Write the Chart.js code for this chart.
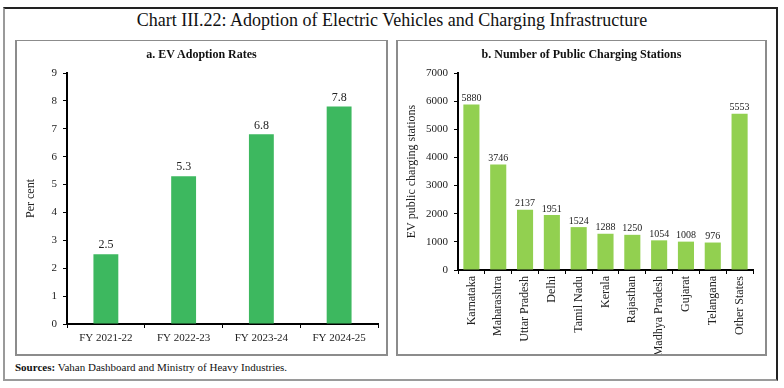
<!DOCTYPE html>
<html>
<head>
<meta charset="utf-8">
<script src="https://cdn.jsdelivr.net/npm/chart.js@4"></script>
<style>
  body { margin: 0; width: 784px; height: 388px; background: #fff; font-family: "Liberation Serif", serif; position: relative; overflow: hidden; }
  #outer { position: absolute; left: 3px; top: 7px; width: 775px; height: 374px; box-sizing: border-box;
           border-top: 2px solid #222; border-right: 2px solid #222; border-left: 2px solid #9a9a9a; border-bottom: 2px solid #9a9a9a; }
  #title { position: absolute; left: 0; top: 10px; width: 784px; text-align: center; font-size: 18px; color: #111; }
  .panel { position: absolute; top: 40px; height: 316px; box-sizing: border-box; border: 1px solid #8c8c8c; border-width: 1px 2px 2px 2px; }
  .panel canvas { position: absolute; left: 0; top: 0; }
  .ptitle { position: absolute; left: 0; top: 6px; width: 100%; text-align: center; font-weight: bold; font-size: 12px; color: #111; }
  #src { position: absolute; left: 15px; top: 361px; font-size: 11px; color: #111; }
</style>
</head>
<body>
<div id="outer"></div>
<div id="title">Chart III.22: Adoption of Electric Vehicles and Charging Infrastructure</div>
<div class="panel" style="left:15px; width:373px;">
  <canvas id="chartA" width="369" height="313"></canvas>
  <div class="ptitle">a. EV Adoption Rates</div>
</div>
<div class="panel" style="left:396px; width:371px;">
  <canvas id="chartB" width="367" height="313"></canvas>
  <div class="ptitle">b. Number of Public Charging Stations</div>
</div>
<div id="src"><b>Sources:</b> Vahan Dashboard and Ministry of Heavy Industries.</div>

<script>
const yearLabels = ['FY 2021-22', 'FY 2022-23', 'FY 2023-24', 'FY 2024-25'];
const adoptionRates = [2.5, 5.3, 6.8, 7.8];

const stateLabels = ['Karnataka', 'Maharashtra', 'Uttar Pradesh', 'Delhi', 'Tamil Nadu', 'Kerala',
                     'Rajasthan', 'Madhya Pradesh', 'Gujarat', 'Telangana', 'Other States'];
const stationCounts = [5880, 3746, 2137, 1951, 1524, 1288, 1250, 1054, 1008, 976, 5553];

// draws the value above each bar
const barValues = {
    id: 'barValues',
    afterDatasetsDraw(chart, args, opts) {
        const ctx = chart.ctx;
        const meta = chart.getDatasetMeta(0);
        ctx.save();
        ctx.font = opts.font;
        ctx.fillStyle = '#222';
        ctx.textAlign = 'center';
        ctx.textBaseline = 'bottom';
        meta.data.forEach((bar, i) => {
            ctx.fillText(chart.data.datasets[0].data[i], bar.x, bar.y - opts.gap);
        });
        ctx.restore();
    }
};

function makeAxes(yMax, yStep, yWidth, xHeight, yTitle, rotate) {
    return {
        x: {
            afterFit: s => { s.height = xHeight; },
            grid: { display: true, drawOnChartArea: false, drawTicks: true, tickLength: 4, color: '#000', offset: true },
            border: { color: '#000', width: 2 },
            ticks: {
                color: '#222', padding: rotate ? 2 : 4, autoSkip: false,
                maxRotation: rotate ? 90 : 0, minRotation: rotate ? 90 : 0,
                font: { family: 'Liberation Serif', size: rotate ? 12 : 11 }
            }
        },
        y: {
            min: 0, max: yMax,
            afterFit: s => { s.width = yWidth; },
            grid: { display: true, drawOnChartArea: false, drawTicks: true, tickLength: 4, color: '#000' },
            border: { color: '#000', width: 2 },
            ticks: { stepSize: yStep, color: '#222', padding: 6, font: { family: 'Liberation Serif', size: 11 },
                     callback: v => String(v) },
            title: { display: true, text: yTitle, color: '#222', padding: { top: 7, bottom: 0 }, font: { family: 'Liberation Serif', size: 12 } }
        }
    };
}

new Chart(document.getElementById('chartA'), {
    type: 'bar',
    data: {
        labels: yearLabels,
        datasets: [{ data: adoptionRates, backgroundColor: '#3db85f', barPercentage: 0.64, categoryPercentage: 0.5 }]
    },
    options: {
        responsive: false,
        animation: false,
        layout: { padding: { top: 32, right: 8, left: 0, bottom: 0 } },
        plugins: { legend: { display: false }, tooltip: { enabled: false },
                   barValues: { font: '12px "Liberation Serif"', gap: 3 } },
        scales: makeAxes(9, 1, 50, 30, 'Per cent', false)
    },
    plugins: [barValues]
});

new Chart(document.getElementById('chartB'), {
    type: 'bar',
    data: {
        labels: stateLabels,
        datasets: [{ data: stationCounts, backgroundColor: '#92d050', barPercentage: 0.6, categoryPercentage: 1 }]
    },
    options: {
        responsive: false,
        animation: false,
        layout: { padding: { top: 32, right: 12, left: 0, bottom: 0 } },
        plugins: { legend: { display: false }, tooltip: { enabled: false },
                   barValues: { font: '10px "Liberation Serif"', gap: 1 } },
        scales: makeAxes(7000, 1000, 60, 84, 'EV public charging stations', true)
    },
    plugins: [barValues]
});
</script>
</body>
</html>
